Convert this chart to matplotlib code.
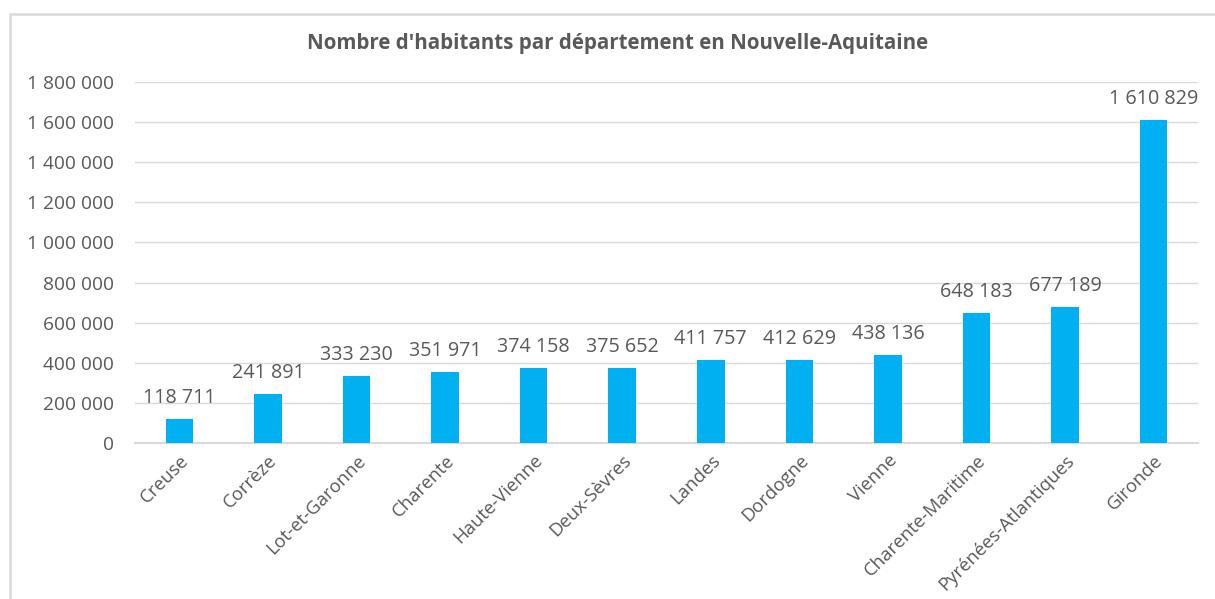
"""Bar chart: population per departement in Nouvelle-Aquitaine."""

import matplotlib

matplotlib.use("Agg")
import matplotlib.pyplot as plt
from matplotlib.patches import Rectangle
from matplotlib.ticker import FuncFormatter, MultipleLocator

departements = [
    "Creuse", "Corrèze", "Lot-et-Garonne", "Charente", "Haute-Vienne",
    "Deux-Sèvres", "Landes", "Dordogne", "Vienne", "Charente-Maritime",
    "Pyrénées-Atlantiques", "Gironde",
]
habitants = [
    118711, 241891, 333230, 351971, 374158, 375652,
    411757, 412629, 438136, 648183, 677189, 1610829,
]

GREY_TEXT = "#595959"
GRID = "#d9d9d9"
BAR = "#00b0f0"


def fmt_fr(value):
    return f"{int(value):,}".replace(",", " ")


plt.rcParams["font.family"] = ["Open Sans", "DejaVu Sans"]

fig = plt.figure(figsize=(12.15, 5.99), dpi=100)
ax = fig.add_axes([135 / 1215, 156 / 599, 1063 / 1215, 361 / 599])

x = range(len(departements))
ax.bar(x, habitants, width=0.31, color=BAR, zorder=3)

for xi, val in zip(x, habitants):
    ax.annotate(fmt_fr(val), (xi, val), xytext=(0, 8), textcoords="offset points",
                ha="center", va="bottom", fontsize=14.2, color=GREY_TEXT)

ax.set_xlim(-0.5, len(departements) - 0.5)
ax.set_ylim(0, 1800000)
ax.yaxis.set_major_locator(MultipleLocator(200000))
ax.yaxis.set_major_formatter(FuncFormatter(lambda v, _: fmt_fr(v)))
ax.grid(axis="y", color=GRID, linewidth=1, zorder=0)

ax.set_xticks(list(x))
ax.set_xticklabels(departements, rotation=45, ha="right", rotation_mode="anchor",
                   fontsize=13.3, color=GREY_TEXT)
ax.tick_params(axis="y", length=0, labelsize=13.8, labelcolor=GREY_TEXT, pad=15)
ax.tick_params(axis="x", length=0, labelcolor=GREY_TEXT, pad=6)

for side in ("top", "right", "left"):
    ax.spines[side].set_visible(False)
ax.spines["bottom"].set_color(GRID)
ax.spines["bottom"].set_linewidth(1.5)

fig.text(618 / 1215, 1 - 43 / 599, "Nombre d'habitants par département en Nouvelle-Aquitaine",
         ha="center", va="center", fontsize=14.8, fontweight="bold", color=GREY_TEXT)

# light frame around the chart area, cut by the image edge on the right and bottom
fig.patches.append(Rectangle((10 / 1215, -0.05), 1.1, 1 - 14 / 599 + 0.05,
                             transform=fig.transFigure, fill=False,
                             edgecolor=GRID, linewidth=1.8))

fig.savefig("out.png", dpi=100)
